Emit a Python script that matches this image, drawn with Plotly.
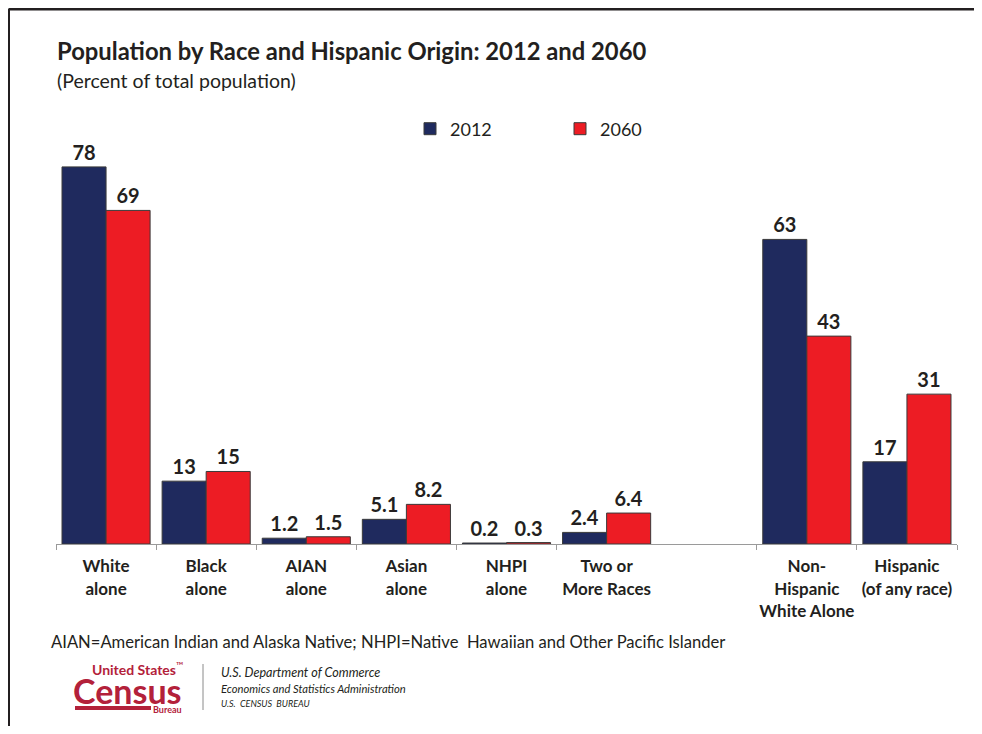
import plotly.graph_objects as go

categories = ["White<br>alone", "Black<br>alone", "AIAN<br>alone", "Asian<br>alone",
              "NHPI<br>alone", "Two or<br>More Races",
              "Non-<br>Hispanic<br>White Alone", "Hispanic<br>(of any race)"]
category_order = categories[:6] + [" "] + categories[6:]
values_2012 = [78, 13, 1.2, 5.1, 0.2, 2.4, 63, 17]
values_2060 = [69, 15, 1.5, 8.2, 0.3, 6.4, 43, 31]
labels_2012 = ["78", "13", "1.2", "5.1", "0.2", "2.4", "63", "17"]
labels_2060 = ["69", "15", "1.5", "8.2", "0.3", "6.4", "43", "31"]

OFF = 8  # page body margin
W, H = 982 - OFF, 734 - 2 * OFF
L, T = 56 - OFF, 120 - OFF
R = W - (957 - OFF)
B = H - (544 - OFF)
PW, PH = W - L - R, H - T - B
FONT = "Lato"
NARROW = "Liberation Sans Narrow, " + FONT
DARK = "#231f20"
NAVY = "#1f2a5e"
RED = "#ed1c24"
LOGO = "#b3213a"


def px(x):
    return (x - OFF - L) / PW


def py(y):
    return (544 - y) / PH


fig = go.Figure()
fig.add_trace(go.Bar(
    x=categories, y=values_2012, name="2012",
    marker=dict(color=NAVY, line=dict(color="#3a3a3a", width=1)),
    text=labels_2012, textposition="outside", cliponaxis=False,
    textfont=dict(family=FONT, size=20, color=DARK, weight="bold"),
))
fig.add_trace(go.Bar(
    x=categories, y=values_2060, name="2060",
    marker=dict(color=RED, line=dict(color="#3a3a3a", width=1)),
    text=labels_2060, textposition="outside", cliponaxis=False,
    textfont=dict(family=FONT, size=20, color=DARK, weight="bold"),
))

annotations = [
    dict(text="<b>Population by Race and Hispanic Origin: 2012 and 2060</b>",
         x=px(55), y=py(51), xanchor="left", yanchor="middle",
         font=dict(family=FONT, size=23.8, color=DARK)),
    dict(text="(Percent of total population)",
         x=px(55), y=py(80), xanchor="left", yanchor="middle",
         font=dict(family=FONT, size=19.5, color=DARK)),
    dict(text="AIAN=American Indian and Alaska Native; NHPI=Native  Hawaiian and Other Pacific Islander",
         x=px(49), y=py(642), xanchor="left", yanchor="middle",
         font=dict(family=FONT, size=16.6, color=DARK)),
    dict(text="<b>United States</b><sup>™</sup>",
         x=px(185), y=py(668), xanchor="right", yanchor="middle",
         font=dict(family=NARROW, size=14, color=LOGO)),
    dict(text="<b>Census</b>",
         x=px(71), y=py(690), xanchor="left", yanchor="middle",
         font=dict(family=NARROW, size=34, color=LOGO)),
    dict(text="<b>Bureau</b>",
         x=px(184), y=py(709), xanchor="right", yanchor="middle",
         font=dict(family=NARROW, size=9, color=LOGO)),
    dict(text="<i>U.S. Department of Commerce</i>",
         x=px(219), y=py(672), xanchor="left", yanchor="middle",
         font=dict(family=FONT, size=12.6, color=DARK)),
    dict(text="<i>Economics and Statistics Administration</i>",
         x=px(219), y=py(688), xanchor="left", yanchor="middle",
         font=dict(family=FONT, size=11.2, color=DARK)),
    dict(text="<i>U.S.  CENSUS  BUREAU</i>",
         x=px(219), y=py(703), xanchor="left", yanchor="middle",
         font=dict(family=FONT, size=9, color=DARK)),
]
for a in annotations:
    a.update(xref="paper", yref="paper", showarrow=False)

shapes = [
    dict(type="line", xref="paper", yref="paper", x0=px(8.5), x1=px(990), y0=py(9), y1=py(9),
         line=dict(color=DARK, width=3)),
    dict(type="line", xref="paper", yref="paper", x0=px(8.5), x1=px(8.5), y0=py(9), y1=py(740),
         line=dict(color=DARK, width=3)),
    dict(type="line", xref="paper", yref="paper", x0=px(75), x1=px(151), y0=py(708), y1=py(708),
         line=dict(color=LOGO, width=4)),
    dict(type="line", xref="paper", yref="paper", x0=px(203), x1=px(203), y0=py(664), y1=py(710),
         line=dict(color="#8a8a8a", width=1)),
]

fig.update_layout(
    width=W, height=H,
    margin=dict(l=L, r=R, t=T, b=B, autoexpand=False),
    paper_bgcolor="white", plot_bgcolor="white",
    barmode="group", bargap=0.12, bargroupgap=0,
    showlegend=True,
    legend=dict(orientation="h", x=px(410), y=py(129), xanchor="left", yanchor="middle",
                font=dict(family=FONT, size=18, color=DARK),
                entrywidth=105, entrywidthmode="pixels", itemwidth=30,
                bgcolor="rgba(0,0,0,0)"),
    xaxis=dict(
        type="category", categoryorder="array", categoryarray=category_order,
        range=[-0.5, 8.5], tickson="boundaries",
        tickmode="array", tickvals=categories, ticktext=categories, tickangle=0,
        ticks="outside", ticklen=5, tickcolor="#9a9a9a", tickwidth=1,
        showline=True, linecolor="#9a9a9a", linewidth=1,
        showgrid=False, ticklabelstandoff=7,
        tickfont=dict(family=FONT, size=17, color=DARK, weight="bold"),
    ),
    yaxis=dict(range=[0, 87.7], visible=False, showgrid=False, zeroline=False),
    annotations=annotations,
    shapes=shapes,
    font=dict(family=FONT),
)

fig.write_html("out.html")
